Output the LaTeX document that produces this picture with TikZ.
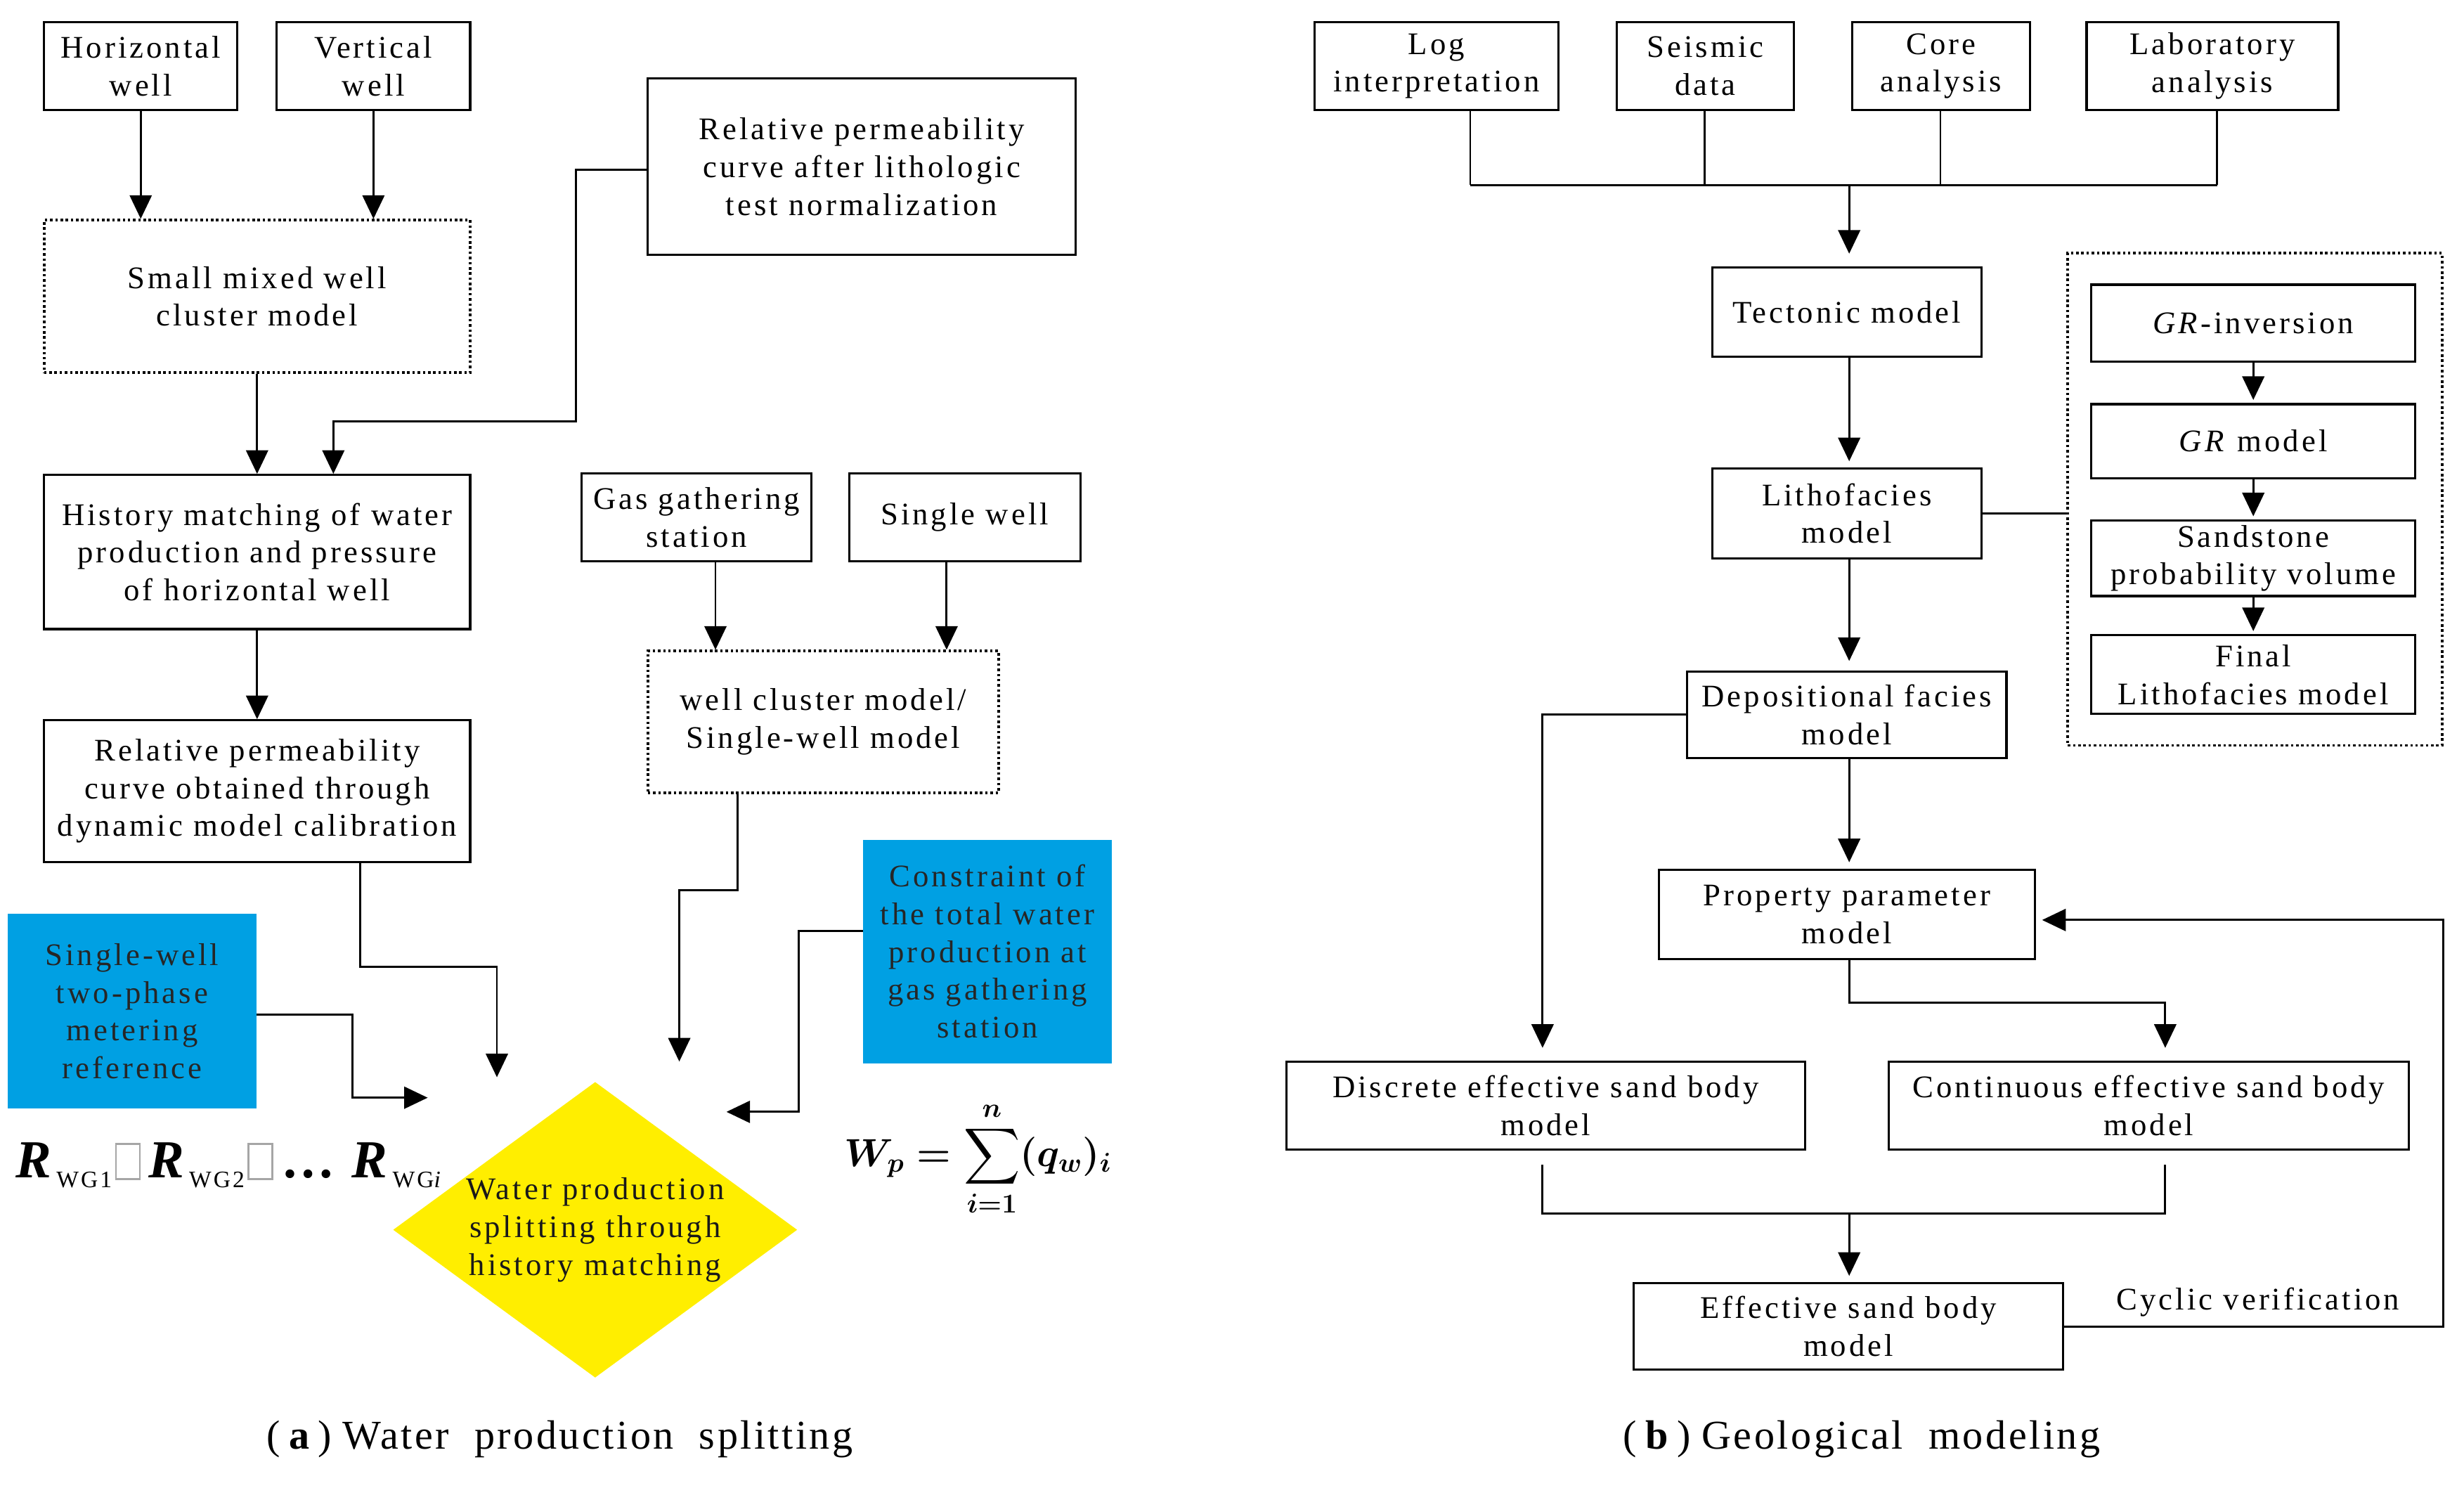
\documentclass[tikz,border=0pt]{standalone}
\usepackage{fontspec}
\setmainfont{Liberation Serif}[LetterSpace=9]
\newfontfamily\capfont{Liberation Serif}[LetterSpace=6]
\usepackage{amsmath}
\usetikzlibrary{arrows.meta,shapes.geometric}
\definecolor{cyanbox}{RGB}{0,160,227}
\definecolor{yel}{RGB}{255,238,0}
\newcommand{\tofubox}{\hspace{2pt}\textcolor{black!35}{\setlength{\fboxrule}{1.2pt}\setlength{\fboxsep}{0pt}\fbox{\rule{0pt}{21pt}\hspace{14pt}}}\hspace{5pt}}
\newcommand{\subtext}[1]{\raisebox{-6pt}{\fontsize{15}{15}\selectfont #1}}
\newsavebox{\rwgbox}
\newsavebox{\wpbox}
\begin{document}
\sbox{\rwgbox}{\fontsize{34}{38}\selectfont\textbf{\textit{R}}\subtext{WG1}\tofubox\textbf{\textit{R}}\subtext{WG2}\tofubox\textbf{\char"2026}\hspace{8pt}\textbf{\textit{R}}\subtext{WG\textit{i}}}
\sbox{\wpbox}{\fontsize{24}{28}\selectfont\boldmath$\displaystyle W_p=\sum_{i=1}^{n}(q_w)_i$}
\begin{tikzpicture}[x=1pt,y=-1pt,
  base/.style={font=\fontsize{20}{24}\selectfont, align=center, inner sep=0pt},
  box/.style={base, draw, line width=1.4pt},
  dotbox/.style={box, dash pattern=on 1.6pt off 1.7pt, line width=1.7pt},
  bluebox/.style={base, fill=cyanbox, text=black!85},
  ln/.style={line width=1.3pt},
  arr/.style={ln, -{Triangle[width=14pt,length=15pt]}},
  ]
\useasboundingbox (0,0) rectangle (1567,946);
% ---------------- panel (a) ----------------
\node[box, minimum width=123pt, minimum height=56pt] (hw) at (89.5,42) {Horizontal\\well};
\node[box, minimum width=123pt, minimum height=56pt] (vw) at (237.5,42) {Vertical\\well};
\node[dotbox, minimum width=271pt, minimum height=97pt] (smw) at (163.5,188.5) {Small mixed well\\cluster model};
\node[box, minimum width=272pt, minimum height=112pt] (rp1) at (548,106) {Relative permeability\\curve after lithologic\\test normalization};
\node[box, minimum width=271pt, minimum height=98pt] (hm) at (163.5,351) {History matching of water\\production and pressure\\of horizontal well};
\node[box, minimum width=271pt, minimum height=90pt] (rp2) at (163.5,503) {Relative permeability\\curve obtained through\\dynamic model calibration};
\node[box, minimum width=146pt, minimum height=56pt] (ggs) at (443,329) {Gas gathering\\station};
\node[box, minimum width=147pt, minimum height=56pt] (sw) at (613.5,329) {Single well};
\node[dotbox, minimum width=223pt, minimum height=90pt] (wcm) at (523.5,459) {well cluster model/\\Single-well model};
\node[bluebox, minimum width=158pt, minimum height=124pt] (b1) at (84,643) {Single-well\\two-phase\\metering\\reference};
\node[bluebox, minimum width=158pt, minimum height=142pt] (b2) at (628,605) {Constraint of\\the total water\\production at\\gas gathering\\station};
\node[diamond, fill=yel, minimum width=257pt, minimum height=188pt, inner sep=0pt] (dia) at (378.5,782) {};
\node[base, text=black!90] (diat) at (dia.center) {Water production\\splitting through\\history matching};

\coordinate (e1) at (316,685);
\coordinate (e2) at (432,675);
\coordinate (e3) at (272,698);
\coordinate (e4) at (462,707);

\draw[arr] (hw.south) -- (hw.south |- smw.north);
\draw[arr] (vw.south) -- (vw.south |- smw.north);
\draw[arr] (smw.south) -- (hm.north);
\draw[arr] ([yshift=-2pt]rp1.west) -- ++(-45,0) -- ++(0,160) -| ([xshift=48.5pt]hm.north);
\draw[arr] (hm.south) -- (rp2.north);
\draw[arr] ([xshift=65.5pt]rp2.south) -- ++(0,66) -| (e1);
\draw[arr] ([xshift=12pt]ggs.south) -- ([xshift=12pt]ggs.south |- wcm.north);
\draw[arr] ([xshift=-11.5pt]sw.south) -- ([xshift=-11.5pt]sw.south |- wcm.north);
\draw[arr] ([xshift=-54.5pt]wcm.south) -- ++(0,61) -| (e2);
\draw[arr] ([yshift=-2pt]b1.east) -- ++(61,0) |- (e3);
\draw[arr] ([yshift=13pt]b2.west) -- ++(-41,0) |- (e4);

\node[anchor=base west, inner sep=0pt] (rwg) at (10,749) {\usebox{\rwgbox}};
\node[inner sep=0pt] (wp) at (622,737) {\usebox{\wpbox}};

\node[inner sep=0pt] (capa) at (356,915) {\capfont\fontsize{26}{30}\selectfont (\hspace{4pt}\textbf{a}\hspace{4pt})\hspace{7pt}Water\ \ production\ \ splitting};

% ---------------- panel (b) ----------------
\node[box, minimum width=155pt, minimum height=56pt] (log) at (913.5,42) {Log\\interpretation};
\node[box, minimum width=113pt, minimum height=56pt] (seis) at (1084.5,42) {Seismic\\data};
\node[box, minimum width=113pt, minimum height=56pt] (core) at (1234.5,42) {Core\\analysis};
\node[box, minimum width=160pt, minimum height=56pt] (lab) at (1407,42) {Laboratory\\analysis};
\node[box, minimum width=171pt, minimum height=57pt] (tec) at (1174.5,198.5) {Tectonic model};
\node[box, minimum width=171pt, minimum height=57pt] (lith) at (1174.5,326.5) {Lithofacies\\model};
\node[dotbox, minimum width=238pt, minimum height=313pt] (dot) at (1434,317.5) {};
\node[box, minimum width=206pt, minimum height=49pt] (gri) at (1433,205.5) {\textit{GR}-inversion};
\node[box, minimum width=206pt, minimum height=47pt] (grm) at (1433,280.5) {\textit{GR} model};
\node[box, minimum width=206pt, minimum height=48pt] (sand) at (1433,355) {Sandstone\\probability volume};
\node[box, minimum width=206pt, minimum height=50pt] (fin) at (1433,429) {Final\\Lithofacies model};
\node[box, minimum width=203pt, minimum height=55pt] (dep) at (1174.5,454.5) {Depositional facies\\model};
\node[box, minimum width=239pt, minimum height=57pt] (prop) at (1174.5,581.5) {Property parameter\\model};
\node[box, minimum width=330pt, minimum height=56pt] (disc) at (983,703) {Discrete effective sand body\\model};
\node[box, minimum width=331pt, minimum height=56pt] (cont) at (1366.5,703) {Continuous effective sand body\\model};
\node[box, minimum width=273pt, minimum height=55pt] (eff) at (1175.5,843.5) {Effective sand body\\model};
\node[base] (cyc) at (1436,828) {Cyclic verification};

\draw[ln] ([xshift=21.5pt]log.south) -- ++(0,47) coordinate (jl);
\draw[ln] ([xshift=-0.5pt]seis.south) -- ++(0,47);
\draw[ln] ([xshift=-0.5pt]core.south) -- ++(0,47);
\draw[ln] ([xshift=3pt]lab.south) -- ++(0,47) coordinate (jr);
\draw[ln] (jl) -- (jr);
\draw[arr] ([xshift=1.5pt]jl -| tec.north) -- ([xshift=1.5pt,yshift=8pt]tec.north);
\draw[arr] ([xshift=1.5pt]tec.south) -- ([xshift=1.5pt,yshift=4pt]lith.north);
\draw[arr] ([xshift=1.5pt]lith.south) -- ([xshift=1.5pt,yshift=6pt]dep.north);
\draw[arr] ([xshift=1.5pt]dep.south) -- ([xshift=1.5pt,yshift=4pt]prop.north);
\draw[ln] (lith.east) -- (lith.east -| dot.west);
\draw[arr] (gri.south) -- ([yshift=2pt]grm.north);
\draw[arr] (grm.south) -- ([yshift=2pt]sand.north);
\draw[arr] (sand.south) -- ([yshift=2pt]fin.north);
\draw[arr] (dep.west) -| ([xshift=-2pt,yshift=8pt]disc.north);
\draw[arr] ([xshift=1.5pt]prop.south) -- ++(0,27) -| ([xshift=10.5pt,yshift=8pt]cont.north);
\draw[ln] ([xshift=-2pt,yshift=-9pt]disc.south) -- ++(0,31) coordinate (kl) -| ([xshift=10.5pt,yshift=-9pt]cont.south);
\draw[arr] ([xshift=0.5pt]kl -| eff.north) -- ([xshift=0.5pt,yshift=4pt]eff.north);
\draw[arr] (eff.east) -- ++(241,0) |- ([xshift=4pt,yshift=-3.5pt]prop.east);

\node[inner sep=0pt] (capb) at (1184,915) {\capfont\fontsize{26}{30}\selectfont (\hspace{4pt}\textbf{b}\hspace{4pt})\hspace{7pt}Geological\ \ modeling};
\end{tikzpicture}
\end{document}
